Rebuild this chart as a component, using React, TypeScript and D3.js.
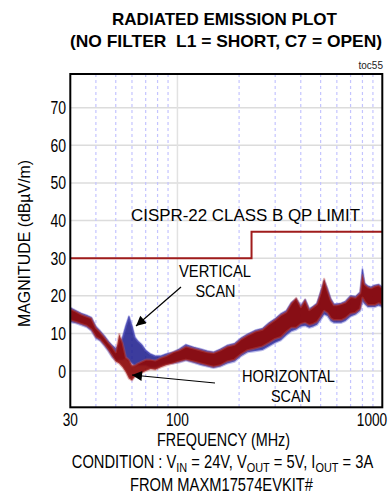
import React from "react";
import * as d3 from "d3";

const freqs = [30, 32, 34, 36, 38, 40, 42, 44, 46, 48, 50, 52, 54, 56, 58, 60, 62, 64, 67, 70, 74, 78, 83, 88, 95, 102, 110, 120, 130, 140, 150, 162, 175, 190, 205, 220, 240, 260, 280, 300, 320, 340, 360, 380, 400, 420, 440, 460, 480, 500, 520, 540, 560, 580, 600, 630, 660, 700, 740, 780, 800, 820, 850, 880, 920, 960, 1000];

// Horizontal scan (dark red) envelope
const horizLow = [13.5, 13, 12.5, 12, 11, 9, 8.3, 7, 5.6, 4, 2.5, 2, 1, -0.3, -2, -2.5, -1.5, -1, -0.5, 0, 0.5, 0.3, 1, 1.5, 2, 2.5, 3, 2.5, 2, 1.5, 1.1, 1.5, 2.5, 3, 4.5, 5.5, 6, 6.5, 7.5, 8.5, 9, 10.4, 11.5, 11.5, 12.5, 12.8, 12.2, 12.5, 13, 14.4, 16, 15.4, 14, 13.5, 13.5, 13.5, 14, 15.2, 15.5, 16.5, 19.5, 18.5, 17.5, 17.5, 17.5, 18, 17.5];
const horizHigh = [16.5, 15.8, 15, 14.5, 14, 11.5, 10.3, 9, 7.6, 6.5, 5, 9.8, 7.5, 3.7, 3, 1.5, 1.5, 2, 2.5, 3, 3, 2.8, 3.5, 4, 5, 5.5, 6.5, 6, 5.5, 5, 4.8, 5.5, 6.5, 7, 8.5, 9.5, 10.5, 11, 12.5, 13.6, 14.9, 15.7, 18, 19.4, 17, 18.9, 16.2, 17, 17.8, 20.7, 24.5, 21.5, 18.9, 17.5, 17.5, 17.8, 18.2, 19.7, 19.5, 20.7, 25.5, 23, 22.3, 22, 22.5, 22.8, 22];

// Vertical scan (blue) envelope
const vertLow = [13, 12.7, 12.2, 11.7, 10.7, 8.7, 8, 6.7, 5.3, 3.7, 2.8, 3, 3, 3.5, 2.5, 2, 1.2, 1.5, 1.5, 1.5, 1, 1, 1.5, 2, 2, 2.3, 2.8, 2.2, 1.6, 1.2, 0.8, 1.2, 2, 2.5, 4, 5, 5.3, 5.6, 6.6, 7.5, 8.2, 9.5, 10.6, 11, 11.8, 12, 11.5, 11.8, 12.3, 13.6, 15, 14.6, 13.3, 12.8, 12.8, 12.8, 13.3, 14.5, 15, 16, 18.5, 17.8, 17, 17, 17, 17.4, 17];
const vertHigh = [16.8, 16, 15.3, 14.8, 14.2, 11.8, 10.6, 9.3, 7.9, 6.8, 6, 7, 9, 12, 14.5, 12, 9, 8, 7, 5.5, 4.5, 4, 4, 4.5, 5, 5.8, 7, 6.3, 5.8, 5.3, 5, 5.8, 6.8, 7.3, 8.8, 9.8, 10.8, 11.3, 12.8, 13.9, 15.2, 16, 18.2, 19.2, 17.3, 19, 16.5, 17.2, 18, 21, 24, 21.8, 19.2, 17.8, 17.8, 18, 18.5, 20, 19.8, 21, 27, 23.3, 22.6, 22.3, 22.8, 23, 22.3];

const limitFreqs = [30, 230, 230, 1000];
const limitValues = [30, 30, 37, 37];

const yTicks = [0, 10, 20, 30, 40, 50, 60, 70];
const xMinor = [40, 50, 60, 70, 80, 90, 200, 300, 400, 500, 600, 700, 800, 900];
const xLabels = [30, 100, 1000];

const FONT = "'Liberation Sans', Arial, sans-serif";

export default function App() {
  const W = 389, H = 495;
  const left = 70.3, right = 382.3, top = 74, bottom = 407.3;
  const x = d3.scaleLog().domain([30, 1000]).range([left, right]);
  const y = d3.scaleLinear().domain([0, 70]).range([371, 107.7]);

  const areaGen = (lo: number[], hi: number[]) =>
    d3.area<number>()
      .x((_, i) => x(freqs[i]))
      .y0((_, i) => y(lo[i]))
      .y1((_, i) => y(hi[i]))
      .curve(d3.curveLinear)(freqs) as string;

  const lineGen = (vals: number[]) =>
    d3.line<number>().x((_, i) => x(freqs[i])).y((_, i) => y(vals[i]))(freqs) as string;

  const limitPath = d3.line<number>()
    .x((_, i) => x(limitFreqs[i]))
    .y((_, i) => y(limitValues[i]))(limitFreqs) as string;

  const red = "#8e0b0b";
  const blue = "#1a1a8c";
  const fit = { lengthAdjust: "spacingAndGlyphs" as const };

  return (
    <svg width={W} height={H} style={{ position: "absolute", left: 0, top: 0 }} fontFamily={FONT}>
      <defs>
        <marker id="ah" viewBox="0 0 10 10" refX="10" refY="5" markerWidth="15" markerHeight="10" markerUnits="userSpaceOnUse" orient="auto">
          <path d="M0,0 L10,5 L0,10 z" fill="#000" />
        </marker>
        <clipPath id="plot">
          <rect x={left} y={top} width={right - left} height={bottom - top} />
        </clipPath>
      </defs>
      <rect width={W} height={H} fill="#fff" />

      {/* Title */}
      <text x={224.5} y={25} textAnchor="middle" fontWeight="bold" fontSize={17} textLength={225} {...fit}>RADIATED EMISSION PLOT</text>
      <text x={226} y={47} textAnchor="middle" fontWeight="bold" fontSize={17} textLength={312} {...fit} style={{ whiteSpace: "pre" }}>(NO FILTER  L1 = SHORT, C7 = OPEN)</text>
      <text x={383} y={69} textAnchor="end" fontSize={10} fill="#222">toc55</text>

      {/* Grid */}
      {yTicks.map((t) => (
        <line key={"h" + t} x1={left} x2={right} y1={y(t)} y2={y(t)} stroke="#dcdcdc" strokeWidth={1.5} />
      ))}
      {xMinor.map((f) => (
        <line key={"v" + f} x1={x(f)} x2={x(f)} y1={top} y2={bottom} stroke="#c4c4ff" strokeWidth={1.2} strokeDasharray="3,3" />
      ))}
      <line x1={x(100)} x2={x(100)} y1={top} y2={bottom} stroke="#e2e2e2" strokeWidth={1.5} />

      {/* Data */}
      <g clipPath="url(#plot)">
        <path d={areaGen(vertLow, vertHigh)} fill={blue} fillOpacity={0.85} stroke="#6a6ad0" strokeOpacity={0.45} strokeWidth={2.2} strokeLinejoin="round" />
        <path d={lineGen(vertHigh)} fill="none" stroke="#3b3bb0" strokeOpacity={0.6} strokeWidth={1} />
        <path d={areaGen(horizLow, horizHigh)} fill={red} fillOpacity={0.93} stroke="#c05050" strokeOpacity={0.4} strokeWidth={2.2} strokeLinejoin="round" />
        <path d={limitPath} fill="none" stroke="#a01c1c" strokeWidth={2} />
      </g>

      {/* Frame */}
      <rect x={left} y={top} width={right - left} height={bottom - top} fill="none" stroke="#000" strokeWidth={2} />

      {/* Y tick labels */}
      {yTicks.map((t) => (
        <text key={"yl" + t} x={66} y={y(t) + 6.5} textAnchor="end" fontSize={18}
          textLength={String(t).length * 7.8} {...fit}>{t}</text>
      ))}
      {/* X tick labels */}
      {xLabels.map((f) => (
        <g key={"xl" + f} transform={`translate(${f === 1000 ? 372 : x(f)},426) scale(0.76,1)`}>
          <text x={0} y={0} textAnchor="middle" fontSize={18}>{f}</text>
        </g>
      ))}

      {/* Axis titles */}
      <text x={223.5} y={446} textAnchor="middle" fontSize={17.5} textLength={133} {...fit}>FREQUENCY (MHz)</text>
      <text transform="translate(30,243.5) rotate(-90)" textAnchor="middle" fontSize={17} textLength={167} {...fit}>MAGNITUDE (dBµV/m)</text>

      {/* Annotations */}
      <text x={245.5} y={221} textAnchor="middle" fontSize={17} textLength={229} {...fit}>CISPR-22 CLASS B QP LIMIT</text>
      <text x={215} y={277} textAnchor="middle" fontSize={17} textLength={72} {...fit}>VERTICAL</text>
      <text x={215.5} y={297} textAnchor="middle" fontSize={17} textLength={40} {...fit}>SCAN</text>
      <text x={288.5} y={382} textAnchor="middle" fontSize={17} textLength={93} {...fit}>HORIZONTAL</text>
      <text x={291} y={402} textAnchor="middle" fontSize={17} textLength={40} {...fit}>SCAN</text>
      <line x1={181} y1={287} x2={136} y2={326} stroke="#000" strokeWidth={1.2} markerEnd="url(#ah)" />
      <line x1={215} y1={383} x2={132} y2={375} stroke="#000" strokeWidth={1.2} markerEnd="url(#ah)" />

      {/* Condition */}
      <g transform="translate(222.5,468) scale(0.84,1)">
        <text x={0} y={0} textAnchor="middle" fontSize={17.5}>
          CONDITION : V<tspan dy={4} fontSize={13}>IN</tspan><tspan dy={-4}> = 24V, V</tspan><tspan dy={4} fontSize={13}>OUT</tspan><tspan dy={-4}> = 5V, I</tspan><tspan dy={4} fontSize={13}>OUT</tspan><tspan dy={-4}> = 3A</tspan>
        </text>
      </g>
      <text x={221.5} y={491} textAnchor="middle" fontSize={17.5} textLength={183} {...fit}>FROM MAXM17574EVKIT#</text>
    </svg>
  );
}
